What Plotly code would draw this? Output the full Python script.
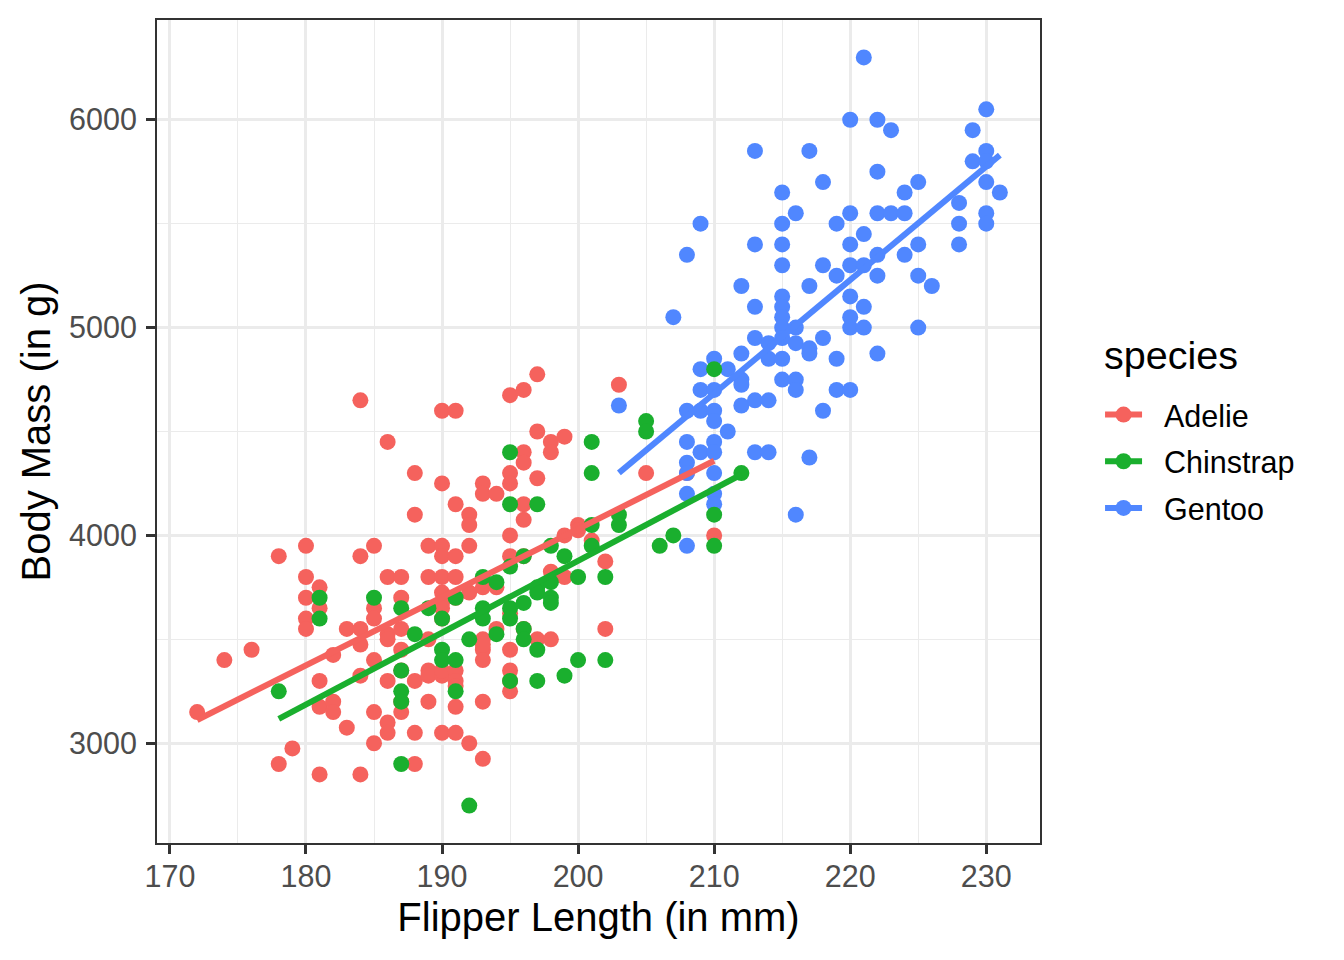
import plotly.graph_objects as go

# flipper length (mm) and body mass (g)
adelie_flipper = [
    172, 174, 176, 178, 178, 179,
    180, 180, 180, 180, 180,
    181, 181, 181, 181, 181,
    182, 182, 182, 183, 183,
    184, 184, 184, 184, 184, 184,
    185, 185, 185, 185, 185, 185,
    186, 186, 186, 186, 186, 186, 186,
    187, 187, 187, 187, 187, 187, 187,
    188, 188, 188, 188, 188,
    189, 189, 189, 189, 189, 189,
    190, 190, 190, 190, 190, 190, 190, 190, 190, 190, 190, 190,
    191, 191, 191, 191, 191, 191, 191, 191, 191, 191,
    192, 192, 192, 192, 192,
    193, 193, 193, 193, 193, 193, 193, 193, 193,
    194, 194, 194,
    195, 195, 195, 195, 195, 195, 195, 195, 195, 195,
    196, 196, 196, 196, 196, 196, 196,
    197, 197, 197, 197,
    198, 198, 198, 198,
    199, 199, 199,
    200, 200, 201, 202, 202, 203, 205, 208, 210,
]
adelie_mass = [
    3150, 3400, 3450, 3900, 2900, 2975,
    3950, 3800, 3700, 3600, 3550,
    3750, 3650, 3300, 3175, 2850,
    3425, 3200, 3150, 3550, 3075,
    4650, 3900, 3550, 3475, 3325, 2850,
    3950, 3650, 3600, 3400, 3150, 3000,
    4450, 3800, 3525, 3500, 3300, 3100, 3050,
    3800, 3700, 3550, 3450, 3350, 3200, 3150,
    4300, 4100, 3300, 3050, 2900,
    3950, 3800, 3500, 3350, 3325, 3200,
    4600, 4250, 3950, 3900, 3800, 3725, 3675, 3650, 3600, 3325, 3350, 3050,
    4600, 4150, 3900, 3800, 3700, 3350, 3300, 3275, 3175, 3050,
    4100, 4050, 3950, 3725, 3000,
    4250, 4200, 3750, 3500, 3450, 3400, 3200, 3475, 2925,
    4200, 3750, 3550,
    4675, 4300, 4250, 4000, 3900, 3625, 3450, 3350, 3300, 3250,
    4700, 4400, 4350, 4150, 4075, 3900, 3550,
    4775, 4500, 4275, 3500,
    4450, 4400, 3825, 3500,
    4475, 4000, 3800,
    4050, 4025, 3975, 3875, 3550, 4725, 4300, 4300, 4000,
]

chinstrap_flipper = [
    178, 181, 181, 185, 187, 187, 187, 187, 187, 188, 189,
    190, 190, 190, 191, 191, 191, 192, 192,
    193, 193, 193, 194, 194,
    195, 195, 195, 195, 195, 195,
    196, 196, 196, 196,
    197, 197, 197, 197, 197,
    198, 198, 198, 198, 199, 199,
    200, 200, 201, 201, 201, 201, 202, 202,
    203, 203, 205, 205, 206, 207, 210, 210, 210, 212,
]
chinstrap_mass = [
    3250, 3700, 3600, 3700, 3650, 3350, 3250, 3200, 2900, 3525, 3650,
    3600, 3450, 3400, 3700, 3400, 3250, 3500, 2700,
    3800, 3650, 3600, 3775, 3525,
    4400, 4150, 3850, 3650, 3600, 3300,
    3900, 3675, 3550, 3500,
    4150, 3750, 3725, 3450, 3300,
    3950, 3775, 3700, 3675, 3900, 3325,
    3800, 3400, 4450, 4300, 4050, 3950, 3800, 3400,
    4100, 4050, 4550, 4500, 3950, 4000, 4800, 4100, 3950, 4300,
]

gentoo_flipper = [
    203, 207,
    208, 208, 208, 208, 208, 208, 208,
    209, 209, 209, 209, 209,
    210, 210, 210, 210, 210, 210, 210, 210, 210,
    211, 211,
    212, 212, 212, 212, 212,
    213, 213, 213, 213, 213, 213,
    214, 214, 214, 214,
    215, 215, 215, 215, 215, 215, 215, 215, 215, 215, 215,
    216, 216, 216, 216, 216, 216,
    217, 217, 217, 217, 217,
    218, 218, 218, 218,
    219, 219, 219, 219,
    220, 220, 220, 220, 220, 220, 220, 220,
    221, 221, 221, 221, 221,
    222, 222, 222, 222, 222, 222,
    223, 223, 224, 224, 224,
    225, 225, 225, 225, 226,
    228, 228, 228, 229, 229,
    230, 230, 230, 230, 230, 230, 231,
]
gentoo_mass = [
    4625, 5050,
    5350, 4600, 4450, 4350, 4300, 4200, 3950,
    5500, 4800, 4700, 4600, 4400,
    4850, 4700, 4600, 4550, 4450, 4400, 4300, 4200, 4150,
    4800, 4500,
    5200, 4875, 4750, 4725, 4625,
    5850, 5400, 5100, 4950, 4650, 4400,
    4925, 4850, 4650, 4400,
    5650, 5500, 5400, 5300, 5150, 5100, 5050, 5000, 4950, 4850, 4750,
    5550, 5000, 4925, 4750, 4700, 4100,
    5850, 5200, 4900, 4875, 4375,
    5700, 5300, 4950, 4600,
    5500, 5250, 4850, 4700,
    6000, 5550, 5400, 5300, 5150, 5050, 5000, 4700,
    6300, 5450, 5300, 5100, 5000,
    6000, 5750, 5550, 5350, 5250, 4875,
    5950, 5550, 5650, 5550, 5350,
    5700, 5400, 5250, 5000, 5200,
    5600, 5500, 5400, 5950, 5800,
    6050, 5850, 5800, 5700, 5550, 5500, 5650,
]

# ends of the per-species linear fits
adelie_fit_x = [172, 210]
adelie_fit_y = [3112, 4359]
chinstrap_fit_x = [178, 212]
chinstrap_fit_y = [3117, 4293]
gentoo_fit_x = [203, 231]
gentoo_fit_y = [4301, 5830]

species = ["Adelie", "Chinstrap", "Gentoo"]
colors = {"Adelie": "#F5625D", "Chinstrap": "#1AAF2E", "Gentoo": "#5087FF"}

points = {
    "Adelie": (adelie_flipper, adelie_mass),
    "Chinstrap": (chinstrap_flipper, chinstrap_mass),
    "Gentoo": (gentoo_flipper, gentoo_mass),
}
fits = {
    "Adelie": (adelie_fit_x, adelie_fit_y),
    "Chinstrap": (chinstrap_fit_x, chinstrap_fit_y),
    "Gentoo": (gentoo_fit_x, gentoo_fit_y),
}

FONT = "Liberation Sans, Arial, Helvetica, sans-serif"

fig = go.Figure()

# points in data order (Adelie, Gentoo, Chinstrap), then the fit lines on top
for sp in ["Adelie", "Gentoo", "Chinstrap"]:
    fx, fy = points[sp]
    fig.add_trace(go.Scatter(
        x=fx, y=fy, mode="markers",
        marker=dict(color=colors[sp], size=16, line=dict(width=0)),
        showlegend=False, hoverinfo="x+y",
    ))

for sp in species:
    lx, ly = fits[sp]
    fig.add_trace(go.Scatter(
        x=lx, y=ly, mode="lines",
        line=dict(color=colors[sp], width=6),
        showlegend=False, hoverinfo="skip",
    ))

# legend keys: point over line, like the ggplot key
for sp in species:
    fig.add_trace(go.Scatter(
        x=[None], y=[None], mode="lines+markers",
        name="\u00a0\u00a0" + sp,
        legendgroup=sp,
        line=dict(color=colors[sp], width=6),
        marker=dict(color=colors[sp], size=16),
    ))

grid = "#EBEBEB"
axis_common = dict(
    showline=True, mirror=True, linecolor="#333333", linewidth=2,
    ticks="outside", ticklen=9, tickwidth=2.5, tickcolor="#333333",
    tickfont=dict(family=FONT, size=30.5, color="#4D4D4D"),
    showgrid=True, gridcolor=grid, gridwidth=2.8,
    zeroline=False, automargin=False,
)

fig.update_xaxes(
    range=[169.05, 233.95], tick0=170, dtick=10,
    minor=dict(dtick=5, tick0=175, showgrid=True, gridcolor=grid, gridwidth=1.4, ticklen=0),
    ticklabelstandoff=-4,
    title=dict(text="Flipper Length (in mm)", standoff=11,
               font=dict(family=FONT, size=40, color="black")),
    **axis_common,
)
fig.update_yaxes(
    range=[2520, 6480], tick0=3000, dtick=1000,
    minor=dict(dtick=500, tick0=2500, showgrid=True, gridcolor=grid, gridwidth=1.4, ticklen=0),
    ticklabelstandoff=3,
    title=dict(text="Body Mass (in g)", standoff=6,
               font=dict(family=FONT, size=40, color="black")),
    **axis_common,
)

# the page adds an 8px body margin, so the margins here are 8px smaller
fig.update_layout(
    width=1344, height=960,
    margin=dict(l=149, r=312, t=12, b=125),
    paper_bgcolor="white", plot_bgcolor="white",
    font=dict(family=FONT),
    legend=dict(
        font=dict(family=FONT, size=30.5, color="black"),
        x=1.068, xanchor="left", y=0.5525, yanchor="top",
        tracegroupgap=4, itemsizing="trace", itemwidth=37,
        bgcolor="rgba(0,0,0,0)",
    ),
    annotations=[dict(
        text="species", xref="paper", yref="paper",
        x=1.0702, y=0.593, xanchor="left", yanchor="middle",
        showarrow=False, font=dict(family=FONT, size=39.5, color="black"),
    )],
)

fig.write_html("out.html")
